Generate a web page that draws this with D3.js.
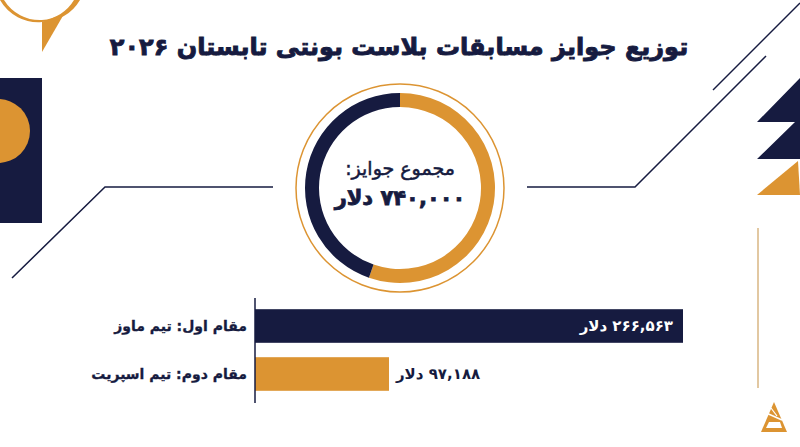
<!DOCTYPE html>
<html><head><meta charset="utf-8">
<script src="https://cdn.jsdelivr.net/npm/d3@7"></script>
<style>
html,body{margin:0;padding:0;background:#fff;}
svg{display:block;}
text{font-family:"DejaVu Sans",sans-serif;}
</style></head>
<body>
<svg id="chart" width="800" height="447"></svg>
<script>
const title = "توزیع جوایز مسابقات بلاست بونتی تابستان ۲۰۲۶";
const totalLabel = "مجموع جوایز:";
const totalValueLabel = "۷۴۰,۰۰۰ دلار";
const categories = ["مقام اول: تیم ماوز", "مقام دوم: تیم اسپریت"];
const prizeValues = [266563, 97188];
const prizeLabels = ["۲۶۶,۵۶۳ دلار", "۹۷,۱۸۸ دلار"];
const donutShares = [55.3, 44.7]; // orange, navy (read from ring)
const scaleStart = 20000;

const NAVY = "#161b40", ORANGE = "#dc9432", TAN = "#d9b683";
const svg = d3.select("#chart");

// ---------- decorations ----------
const deco = svg.append("g");
deco.append("path").attr("d", "M 0,0 A 44 44 0 0 0 42,22 A 44 44 0 0 0 80,0 L 74,0 A 41 41 0 0 1 42,20 A 42 42 0 0 1 4,0 Z").attr("fill", ORANGE);
deco.append("path").attr("d", "M 42,22 L 42,52 L 64,14 Z").attr("fill", ORANGE);
deco.append("rect").attr("x", 0).attr("y", 78).attr("width", 42).attr("height", 145).attr("fill", NAVY);
deco.append("path").attr("d", d3.arc()({innerRadius:0, outerRadius:32, startAngle:0, endAngle:Math.PI})).attr("transform", "translate(-2,131)").attr("fill", ORANGE);
deco.append("polyline").attr("points", "12,278 105,187 273,187").attr("fill", "none").attr("stroke", NAVY).attr("stroke-width", 1.5);
deco.append("polyline").attr("points", "527,187 635,187 766,56").attr("fill", "none").attr("stroke", NAVY).attr("stroke-width", 1.5);
deco.append("line").attr("x1", 713).attr("y1", 90).attr("x2", 800).attr("y2", 3).attr("stroke", NAVY).attr("stroke-width", 1.5);
deco.append("path").attr("d", "M 800,78 L 757,122 L 795,122 L 757,159 L 800,159 Z").attr("fill", NAVY);
deco.append("path").attr("d", "M 798,161 L 757,195 L 800,195 Z").attr("fill", ORANGE);
deco.append("line").attr("x1", 758).attr("y1", 228).attr("x2", 758).attr("y2", 388).attr("stroke", TAN).attr("stroke-width", 1.5);
const logo = deco.append("g").attr("transform", "translate(774,402)");
logo.append("path").attr("d", "M 0,0 L 13,30 L -13,30 Z").attr("fill", ORANGE);
logo.append("path").attr("d", "M -5,20 L 6,20 L 8,26 L -8,26 Z").attr("fill", "#fff");
logo.append("line").attr("x1", -10).attr("y1", 10).attr("x2", 8).attr("y2", 18).attr("stroke", "#fff").attr("stroke-width", 1.5);
logo.append("line").attr("x1", -3).attr("y1", 6).attr("x2", 3).attr("y2", 14).attr("stroke", "#fff").attr("stroke-width", 1.2);

// ---------- title ----------
svg.append("text").attr("x", 399).attr("y", 47).attr("direction", "rtl")
  .attr("text-anchor", "middle").attr("dominant-baseline", "central")
  .attr("font-size", 24).attr("font-weight", "bold").attr("fill", NAVY)
  .attr("stroke", NAVY).attr("stroke-width", 0.9).text(title);

// ---------- donut ----------
const cx = 400, cy = 188;
const dg = svg.append("g").attr("transform", `translate(${cx},${cy})`);
dg.append("circle").attr("r", 104).attr("fill", "none").attr("stroke", ORANGE).attr("stroke-width", 1.5);
const pie = d3.pie().sort(null).value(d => d);
const arc = d3.arc().innerRadius(81).outerRadius(95);
dg.selectAll("path.seg").data(pie(donutShares)).join("path").attr("class", "seg")
  .attr("d", arc).attr("fill", (d, i) => i === 0 ? ORANGE : NAVY);
dg.append("text").attr("y", -20).attr("direction", "rtl").attr("text-anchor", "middle")
  .attr("dominant-baseline", "central").attr("font-size", 19).attr("fill", NAVY)
  .attr("stroke", NAVY).attr("stroke-width", 0.5).text(totalLabel);
dg.append("text").attr("y", 10).attr("direction", "rtl").attr("text-anchor", "middle")
  .attr("dominant-baseline", "central").attr("font-size", 21).attr("font-weight", "bold").attr("fill", NAVY)
  .attr("stroke", NAVY).attr("stroke-width", 0.8).text(totalValueLabel);

// ---------- bars ----------
const x = d3.scaleLinear().domain([scaleStart, prizeValues[0]]).range([255, 683]);
const y = d3.scaleBand().domain(categories).range([302, 398]).paddingInner(0.3).paddingOuter(0.15);
const bg = svg.append("g");
bg.selectAll("rect.bar").data(prizeValues).join("rect").attr("class", "bar")
  .attr("x", x(scaleStart)).attr("y", (d, i) => y(categories[i]))
  .attr("width", d => x(d) - x(scaleStart)).attr("height", y.bandwidth())
  .attr("fill", (d, i) => i === 0 ? NAVY : ORANGE);
const yAxis = d3.axisLeft(y).tickSize(0).tickFormat("");
bg.append("g").attr("transform", `translate(${x(scaleStart)},0)`).call(yAxis)
  .call(g => g.select(".domain").attr("stroke", NAVY).attr("stroke-width", 1.5).attr("d", "M0,298V403"));
bg.selectAll("text.cat").data(categories).join("text").attr("class", "cat")
  .attr("x", x(scaleStart) - 8).attr("y", d => y(d) + y.bandwidth() / 2)
  .attr("direction", "rtl").attr("text-anchor", "start").attr("dominant-baseline", "central")
  .attr("font-size", 14).attr("font-weight", "bold").attr("fill", NAVY)
  .attr("stroke", NAVY).attr("stroke-width", 0.3).text(d => d);
bg.selectAll("text.val").data(prizeValues).join("text").attr("class", "val")
  .attr("x", (d, i) => i === 0 ? x(d) - 10 : x(d) + 7)
  .attr("y", (d, i) => y(categories[i]) + y.bandwidth() / 2)
  .attr("direction", "rtl").attr("text-anchor", (d, i) => i === 0 ? "start" : "end")
  .attr("dominant-baseline", "central").attr("font-size", 15).attr("font-weight", "bold")
  .attr("fill", (d, i) => i === 0 ? "#fff" : NAVY).text((d, i) => prizeLabels[i]);
</script>
</body></html>
